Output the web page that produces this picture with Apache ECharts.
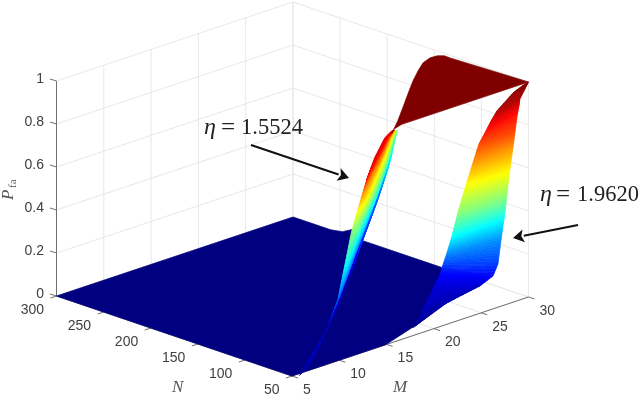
<!DOCTYPE html>
<html><head><meta charset="utf-8">
<style>html,body{margin:0;padding:0;background:#fff}#c{width:640px;height:398px}</style>
<script src="https://cdn.jsdelivr.net/npm/echarts@6/dist/echarts.min.js"></script>
</head><body><div id="c"></div>
<script>
// ---------- axis ticks ----------
const mTicks = [5, 10, 15, 20, 25, 30];
const nTicks = [50, 100, 150, 200, 250, 300];
const pTicks = [0, 0.2, 0.4, 0.6, 0.8, 1];
const pTickLabels = ['0', '0.2', '0.4', '0.6', '0.8', '1'];

// ---------- floor and plateau outlines (M, N, P) ----------
const floorM = [5, 5, 14.9, 17.6, 21.2, 24.7, 26, 30, 30, 30, 30, 30, 30];
const floorN = [300, 50, 50, 50, 50, 50, 50, 142, 226, 237, 247.5, 260, 300];
const floorP = [0, 0, 0, 0.037, 0.1, 0.127, 0.157, 0, 0, 0.036, 0.01, 0, 0];

const plateauM = [15.6, 16.96, 19.26, 21.73, 24.04, 25.88, 27.4, 28.55, 29.24, 29.62, 29.6, 30, 16.6, 15.8];
const plateauN = [50.7, 57.8, 75.6, 94.9, 112.7, 125.8, 135.8, 139.9, 139.3, 135.6, 129.3, 50, 50, 50];
const plateauP = [0.97, 1, 1, 1, 1, 1, 1, 1, 1, 1, 1, 1, 1, 0.99];

// ---------- eta = 1.9620 wall: level lines of P ----------
const wallBP = [0.01, 0.03, 0.07, 0.11, 0.17, 0.25, 0.36, 0.43, 0.5, 0.6, 0.72, 0.8, 0.85, 0.9, 0.95, 0.98, 0.99, 1];
const wallBM = [[18.67,18.67],[19.15,23.7],[23.47,26.8],[25.05,27.7],[24.75,27.83],[24.15,29.2],[23.2,28.8],[22.89,28.24],[22.57,27.84],[23.33,27.71],[23.79,28.27],[24.39,28.19],[24.75,29.12],[25.27,29.11],[25.46,28.57],[28.13,29.39],[29.37,29.79],[30,30]];
const wallBN = [[59,59],[59.6,73.6],[86.9,69.3],[94.3,64.6],[88.1,60.6],[77.8,71],[63.2,63.9],[56.8,56.7],[50.4,51.2],[50.6,47.7],[46.7,49.1],[46.3,46.1],[43.6,53.3],[42.3,51.1],[38,44.7],[47.7,47.6],[50.5,49.5],[50,50]];

// ---------- eta = 1.5524 wall: level lines of P ----------
const wallAP = [0.9, 0.87, 0.75, 0.62, 0.5, 0.36, 0.22, 0.11, 0.03];
const wallAM = [
  [18.45,16.98,13.3,9.79],
  [19.57,17.99,15.79,12.06,10.28],
  [23.68,22.16,20,16.33,12.08],
  [28.12,26.65,24.56,20.99,15.59,13.01],
  [32.2,30.82,28.77,25.26,19.9,15.23,13.79],
  [32.72,30.15,24.84,20.28,13.67,12.15],
  [31.37,29.64,25.23,20.4,15.09,11.84],
  [24.12,17.82,13.52,9.9],
  [20.52,15.18,11.5,6.57,4.46]
];
const wallAN = [
  [79.05,71.8,45.6,17.9],
  [88.1,78.7,63,37.4,23.8],
  [128.2,118.2,102,75.9,46.1],
  [171.6,161.1,144.4,117.2,76.9,61.7],
  [211.6,200.6,183.4,155.6,114.8,82.9,75.3],
  [222.8,201.3,160,127.1,76.8,66.9],
  [220.9,206.8,172.3,135.6,94.3,70.2],
  [172.8,122.6,90.1,63.5],
  [149.6,108.8,82.7,47.1,36.7]
];

// ---------- text ----------
const axisTitleM = 'M', axisTitleN = 'N';
const etaA = '1.5524', etaB = '1.9620';

// ---------- view ----------
const lm = echarts.number.linearMap;
function project(M, N, P) {
  const a = lm(M, [5, 30], [0, 1]), b = lm(N, [300, 50], [0, 1]);
  return [56.5 + 236.5 * a + 235.5 * b, 296 - 79 * a + 80 * b - 215 * P];
}
const jetStops = [[0,0,0,128],[0.11,0,0,255],[0.36,0,255,255],[0.62,255,255,0],[0.87,255,0,0],[1,128,0,0]];
function jet(p) {
  p = Math.max(0, Math.min(1, p));
  for (let i = 1; i < jetStops.length; i++) {
    if (p <= jetStops[i][0]) {
      const s = jetStops[i-1], e = jetStops[i], t = (p - s[0]) / (e[0] - s[0]);
      return 'rgb(' + [1,2,3].map(k => Math.round(s[k] + (e[k] - s[k]) * t)).join(',') + ')';
    }
  }
  return 'rgb(128,0,0)';
}
function resample(pts, n) {
  const d = [0];
  for (let i = 1; i < pts.length; i++) d.push(d[i-1] + Math.hypot(pts[i][0]-pts[i-1][0], pts[i][1]-pts[i-1][1]));
  const L = d[d.length-1] || 1, out = [];
  for (let k = 0; k <= n; k++) {
    const t = L * k / n; let i = 1;
    while (i < pts.length - 1 && d[i] < t) i++;
    const f = (t - d[i-1]) / ((d[i] - d[i-1]) || 1);
    out.push([pts[i-1][0] + (pts[i][0]-pts[i-1][0]) * f, pts[i-1][1] + (pts[i][1]-pts[i-1][1]) * f]);
  }
  return out;
}
function levelLine(ms, ns, p) { return ms.map((m, i) => project(m, ns[i], p)); }
function band(line0, p0, line1, p1) {
  const K = 24, J = 8, a = resample(line0, K), b = resample(line1, K), kids = [];
  const mix = (t, i) => [a[i][0] + (b[i][0]-a[i][0]) * t, a[i][1] + (b[i][1]-a[i][1]) * t];
  for (let j = 0; j < J; j++) {
    const t0 = j / J, t1 = (j + 1) / J, top = [], bot = [];
    for (let i = 0; i <= K; i++) { top.push(mix(t0, i)); bot.unshift(mix(t1, i)); }
    const c = jet(p0 + (p1 - p0) * (t0 + t1) / 2);
    kids.push({ type: 'polygon', shape: { points: top.concat(bot) }, style: { fill: c, stroke: c, lineWidth: 0.7 } });
  }
  return { type: 'group', children: kids };
}
function sheet(name, z, P, Ms, Ns) {
  return { type: 'custom', name, coordinateSystem: 'none', silent: true, animation: false, z,
    data: P.slice(1).map((_, i) => [i]),
    renderItem: (params) => {
      const i = params.dataIndex;
      return band(levelLine(Ms[i], Ns[i], P[i]), P[i], levelLine(Ms[i+1], Ns[i+1], P[i+1]), P[i+1]);
    } };
}
function outline(name, z, Ms, Ns, Ps, color) {
  return { type: 'custom', name, coordinateSystem: 'none', silent: true, animation: false, z,
    data: [[0]],
    renderItem: () => ({ type: 'polygon',
      shape: { points: Ms.map((m, i) => project(m, Ns[i], Ps[i])) },
      style: { fill: color, stroke: color, lineWidth: 0.7 } }) };
}
const GRID = '#e8e8e8', AXIS = '#707070', TXT = '#404040';
const seg = (p, q, stroke, w) => ({ type: 'line', shape: { x1: p[0], y1: p[1], x2: q[0], y2: q[1] }, style: { stroke, lineWidth: w } });
const label = (text, x, y, align) => ({ type: 'text', style: { text, x, y, align, verticalAlign: 'middle', fill: TXT, font: '14px "Liberation Sans", Arial, sans-serif' } });

function frame() {
  const k = [];
  const M0 = mTicks[0], M1 = mTicks[mTicks.length-1], N0 = nTicks[0], N1 = nTicks[nTicks.length-1], P1 = pTicks[pTicks.length-1];
  mTicks.forEach(m => {
    k.push(seg(project(m, N1, 0), project(m, N1, P1), GRID, 1));
    k.push(seg(project(m, N0, 0), project(m, N1, 0), GRID, 1));
  });
  nTicks.forEach(n => {
    k.push(seg(project(M1, n, 0), project(M1, n, P1), GRID, 1));
    k.push(seg(project(M0, n, 0), project(M1, n, 0), GRID, 1));
  });
  pTicks.forEach(p => {
    k.push(seg(project(M0, N1, p), project(M1, N1, p), GRID, 1));
    k.push(seg(project(M1, N1, p), project(M1, N0, p), GRID, 1));
  });
  return k;
}
function axes() {
  const k = [];
  const M0 = mTicks[0], M1 = mTicks[mTicks.length-1], N0 = nTicks[0], N1 = nTicks[nTicks.length-1], P1 = pTicks[pTicks.length-1];
  k.push(seg(project(M0, N1, 0), project(M0, N1, P1), AXIS, 1));
  k.push(seg(project(M0, N1, 0), project(M0, N0, 0), AXIS, 1));
  k.push(seg(project(M0, N0, 0), project(M1, N0, 0), AXIS, 1));
  pTicks.forEach((p, i) => {
    const q = project(M0, N1, p);
    k.push(seg(q, [q[0]-6.5, q[1]-2], AXIS, 1));
    k.push(label(pTickLabels[i], q[0]-12.5, q[1]-2, 'right'));
  });
  nTicks.forEach(n => {
    const q = project(M0, n, 0);
    k.push(seg(q, [q[0]-6, q[1]+2], AXIS, 1));
    k.push(label(String(n), q[0]-12.5, q[1]+14, 'right'));
  });
  mTicks.forEach(m => {
    const q = project(m, N0, 0);
    k.push(seg(q, [q[0]+6, q[1]+2], AXIS, 1));
    k.push(label(String(m), q[0]+11, q[1]+14, 'left'));
  });
  return k;
}
const single = (name, z, fn) => ({ type: 'custom', name, coordinateSystem: 'none', silent: true, animation: false, z,
  data: [[0]], renderItem: () => ({ type: 'group', children: fn() }) });

function arrow(x0, y0, x1, y1) {
  const L = Math.hypot(x1-x0, y1-y0), ux = (x1-x0)/L, uy = (y1-y0)/L, h = 11, w = 6.5;
  const bx = x1 - ux*h, by = y1 - uy*h;
  return [
    { type: 'line', z: 50, silent: true, shape: { x1: x0, y1: y0, x2: bx, y2: by }, style: { stroke: '#111', lineWidth: 2 } },
    { type: 'polygon', z: 50, silent: true, shape: { points: [[x1,y1],[bx-uy*w,by+ux*w],[bx+ux*2.5,by+uy*2.5],[bx+uy*w,by-ux*w]] }, style: { fill: '#111' } }
  ];
}
const serif = '"Liberation Serif","Times New Roman",serif';
const T = (text, x, y, font, fill, extra) => Object.assign({ type: 'text', z: 50, silent: true, x, y,
  style: { text, font, fill: fill || '#222', align: 'left', verticalAlign: 'middle' } }, extra || {});

const chart = echarts.init(document.getElementById('c'), null, { renderer: 'canvas' });
chart.setOption({
  backgroundColor: '#fff',
  animation: false,
  series: [
    single('frame', 1, frame),
    single('axes', 2, axes),
    outline('floor', 3, floorM, floorN, floorP, 'rgb(0,0,128)'),
    sheet('eta=1.9620', 4, wallBP, wallBM, wallBN),
    sheet('eta=1.5524', 5, wallAP, wallAM, wallAN),
    outline('plateau', 6, plateauM, plateauN, plateauP, 'rgb(128,0,0)')
  ],
  graphic: { elements: [
    ...arrow(251, 145, 349, 178),
    ...arrow(578, 225, 513, 238),
    T('η', 204, 128, 'italic 24px ' + serif),
    T('=', 221, 128, '25px ' + serif),
    T(etaA, 241, 128, '22.5px ' + serif),
    T('η', 540, 195, 'italic 24px ' + serif),
    T('=', 556, 195, '25px ' + serif),
    T(etaB, 577, 195, '22.5px ' + serif),
    T(axisTitleN, 172, 388, 'italic 17px ' + serif, '#555'),
    T(axisTitleM, 393, 388, 'italic 17px ' + serif, '#555'),
    T('P', 9, 200, 'italic 17px ' + serif, '#555', { rotation: Math.PI/2 }),
    T('fa', 13, 188, '11px ' + serif, '#555', { rotation: Math.PI/2 })
  ] }
});
</script></body></html>
